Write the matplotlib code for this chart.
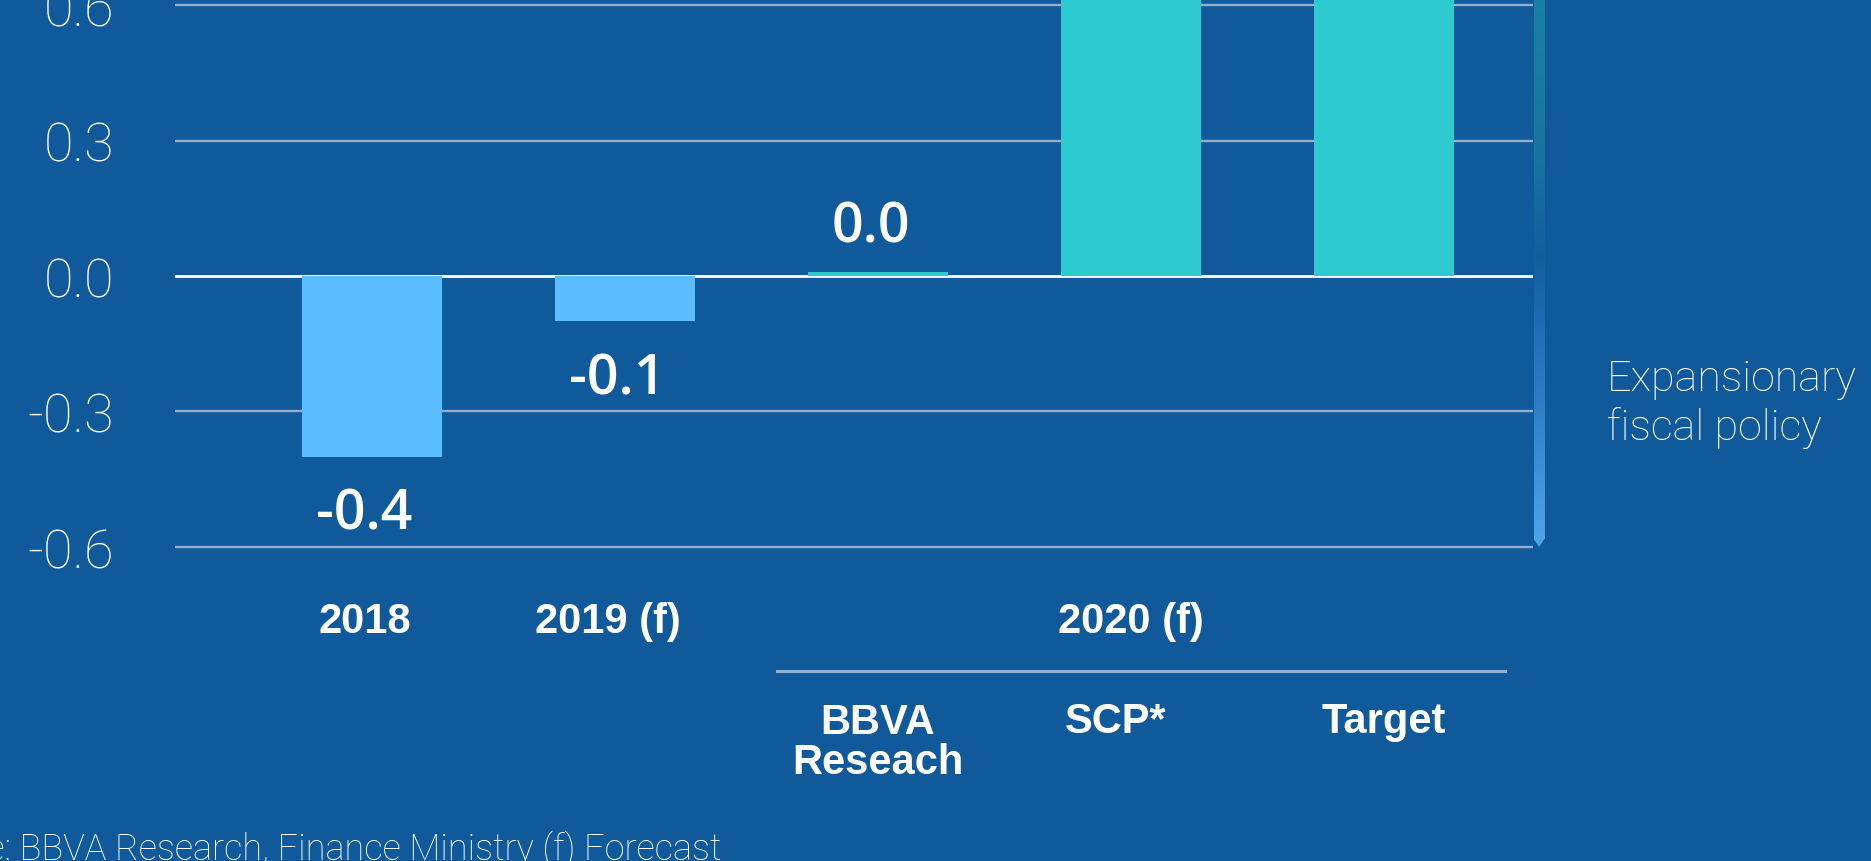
import numpy as np
import matplotlib
matplotlib.use('Agg')
import matplotlib.pyplot as plt
from matplotlib.transforms import blended_transform_factory
from matplotlib.colors import LinearSegmentedColormap
from matplotlib.patches import Polygon

# ---------------- data ----------------
categories = ['2018', '2019 (f)', 'BBVA\nReseach', 'SCP*', 'Target']
values = [-0.4, -0.1, 0.01, 0.9, 1.2]
value_labels = ['-0.4', '-0.1', '0.0', '0.9', '1.2']
bar_colors = ['#5BBCFF', '#5BBCFF', '#2DCBCF', '#2DCBCF', '#2DCBCF']
yticks = [-0.6, -0.3, 0.0, 0.3, 0.6]
ytick_labels = ['-0.6', '-0.3', '0.0', '0.3', '0.6']
group_label = '2020 (f)'
group_members = [2, 3, 4]
side_label = 'Expansionary\nfiscal policy'
source_text = 'Source: BBVA Research, Finance Ministry (f) Forecast'

# ---------------- style ----------------
BG = '#10599A'
W, H = 1871, 862
light = ['Roboto', 'DejaVu Sans']
narrow = ['Liberation Sans', 'DejaVu Sans']
semi = ['Open Sans', 'DejaVu Sans']
label_dx = [-0.03, -0.07, 0.0, -0.06, 0.0]   # small horizontal nudges of category labels

fig = plt.figure(figsize=(W / 100, H / 100), dpi=100, facecolor=BG)
ax_top_px, ax_bot_px = 0, 555
ax = fig.add_axes([175 / W, (H - ax_bot_px) / H, (1533 - 175) / W, (ax_bot_px - ax_top_px) / H])
ax.set_facecolor(BG)
ax.set_xlim(-0.78, 4.59)
ax.set_ylim(-0.616, 0.614)
for s in ax.spines.values():
    s.set_visible(False)

x = np.arange(len(categories))
ax.set_yticks(yticks)
ax.set_yticklabels(ytick_labels, fontsize=39, color='white', family=light, fontweight='light')
ax.tick_params(axis='y', length=0, pad=44)
ax.set_xticks([])
for t in yticks:
    if t != 0:
        ax.axhline(t, color='#94AFCC', lw=1.7, zorder=1)
ax.axhline(0, color='white', lw=2.0, zorder=2)

ax.bar(x, values, width=0.555, color=bar_colors, zorder=3)

for xi, v, lab in zip(x, values, value_labels):
    off = 32 if v >= 0 else -42
    ax.annotate(lab, (xi - 0.03, v), xytext=(0, off), textcoords='offset points',
                ha='center', va='center', fontsize=40, color='white',
                family=semi, fontweight='semibold', clip_on=True, annotation_clip=True)

# category labels
tr = blended_transform_factory(ax.transData, fig.transFigure)
cat_fs = 30
for i, cat in enumerate(categories):
    if i in group_members:
        y = 1 - 743 / H if '\n' in cat else 1 - 722 / H
        ax.text(i + label_dx[i], y, cat, transform=tr, ha='center', va='center', fontsize=cat_fs,
                color='white', family=narrow, fontweight='bold', linespacing=1.0)
    else:
        ax.text(i + label_dx[i], 1 - 622 / H, cat, transform=tr, ha='center', va='center',
                fontsize=cat_fs, color='white', family=narrow, fontweight='bold')

gc = np.mean(group_members)
ax.text(gc, 1 - 622 / H, group_label, transform=tr, ha='center', va='center', fontsize=cat_fs,
        color='white', family=narrow, fontweight='bold')
ax.plot([group_members[0] - 0.40, group_members[-1] + 0.48], [1 - 672 / H] * 2,
        transform=tr, color='#94AFCC', lw=2.2, clip_on=False)

# gradient arrow
ax_arr = fig.add_axes([1533 / W, 0, 12 / W, 1])
ax_arr.set_xlim(0, 1)
ax_arr.set_ylim(0, H)
ax_arr.axis('off')
cmap = LinearSegmentedColormap.from_list('arr', [
    (0.0, '#1A80A5'), (0.30, '#1873A0'), (0.48, '#125E9A'),
    (0.52, '#1862A5'), (0.75, '#2F7EC4'), (1.0, '#4DA3E8')])
grad = np.linspace(0, 1, 256).reshape(-1, 1)
shaft_bot = H - 540
ax_arr.imshow(grad, extent=[0.05, 0.95, shaft_bot, H], aspect='auto', cmap=cmap, origin='upper')
ax_arr.add_patch(Polygon([(0.05, shaft_bot), (0.95, shaft_bot), (0.5, H - 548)],
                         closed=True, color='#4DA3E8', lw=0))

fig.text(1607 / W, 1 - 404 / H, side_label, ha='left', va='center', fontsize=31,
         color='white', family=light, fontweight='light', linespacing=1.2)

fig.text(721 / W, 3 / H, source_text, ha='right', va='baseline', fontsize=26,
         color='white', family=light, fontweight='light')

fig.savefig('out.png', dpi=100, facecolor=BG)
